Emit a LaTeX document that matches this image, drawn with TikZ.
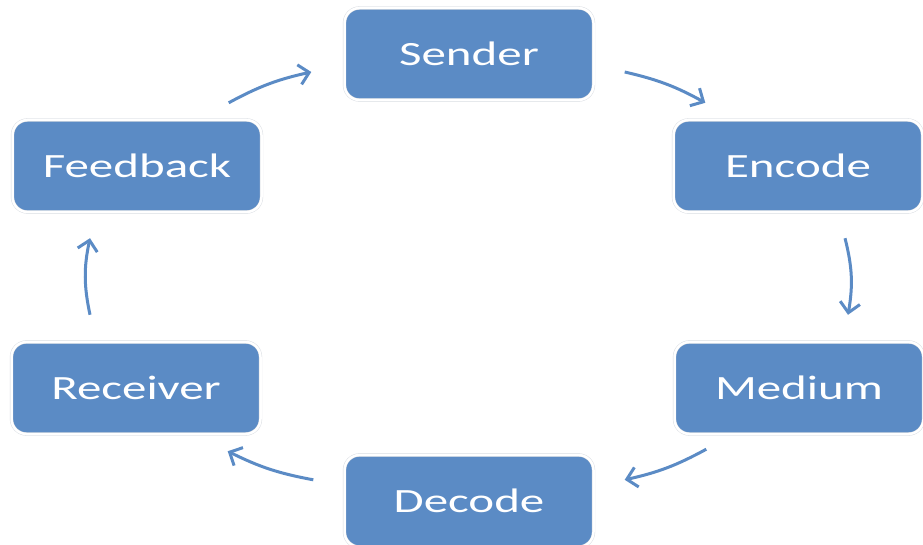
\documentclass[tikz,border=0pt]{standalone}
\usepackage{fontspec}
\usepackage{tikz}
\usetikzlibrary{calc,arrows.meta}
\newfontfamily\boxfont{Carlito}[FakeStretch=1.44]
\definecolor{boxblue}{HTML}{5B8BC5}
\definecolor{rimgray}{HTML}{D4D8DE}

\begin{document}
\begin{tikzpicture}[x=1pt, y=-1pt,
  stage node/.style={rectangle, rounded corners=15pt, fill=boxblue, draw=rimgray,
    double=white, double distance=2.5pt, minimum width=249pt, minimum height=92pt,
    text=white, font=\boxfont\fontsize{34}{36}\selectfont},
  flow/.style={draw=boxblue, line width=3pt, -{Straight Barb[length=10pt,width=20pt]}}]
\useasboundingbox (0,0) rectangle (923,545);
\node[stage node] (sender)   at (469,54)  {Sender};
\node[stage node] (encode)   at (798,166) {Encode};
\node[stage node] (medium)   at (799,388) {Medium};
\node[stage node] (decode)   at (469,501) {Decode};
\node[stage node] (receiver) at (136,388) {Receiver};
\node[stage node] (feedback) at (137,166) {Feedback};
\draw[flow] ($(sender.east)+(31,18)$) to[bend left=8] ($(encode.north west)+(32,-17)$);
\draw[flow] ($(encode.south)+(47,26)$) to[bend left=12] ($(medium.north)+(49,-27)$);
\draw[flow] ($(medium.south west)+(32,15)$) to[bend left=8] ($(decode.north east)+(31,25)$);
\draw[flow] ($(decode.north west)+(-31,25)$) to[bend left=8] ($(receiver.south east)+(-33,17)$);
\draw[flow] ($(receiver.north)+(-46,-27)$) to[bend left=12] ($(feedback.south)+(-47,26)$);
\draw[flow] ($(feedback.north east)+(-33,-17)$) to[bend left=8] ($(sender.west)+(-33,18)$);
\end{tikzpicture}
\end{document}
